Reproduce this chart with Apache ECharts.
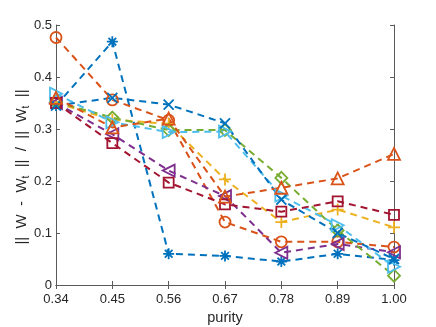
<!DOCTYPE html>
<html>
<head>
<meta charset="utf-8">
<script src="https://cdn.jsdelivr.net/npm/echarts@6/dist/echarts.min.js"></script>
<style>html,body{margin:0;padding:0;background:#fff;}#c{width:436px;height:327px;}</style>
</head>
<body>
<div id="c"></div>
<script>
const categories = ['0.34', '0.45', '0.56', '0.67', '0.78', '0.89', '1.00'];
const yTicks = [0, 0.1, 0.2, 0.3, 0.4, 0.5];

const asteriskBlue = [0.345, 0.468, 0.060, 0.056, 0.045, 0.060, 0.048];
const circleOrange = [0.476, 0.356, 0.317, 0.121, 0.083, 0.083, 0.073];
const plusYellow   = [0.350, 0.318, 0.310, 0.203, 0.121, 0.145, 0.111];
const leftTriPurple= [0.350, 0.290, 0.220, 0.171, 0.062, 0.079, 0.063];
const diamondGreen = [0.352, 0.322, 0.298, 0.298, 0.206, 0.105, 0.018];
const rightTriCyan = [0.368, 0.313, 0.294, 0.295, 0.172, 0.115, 0.035];
const squareRed    = [0.350, 0.273, 0.197, 0.155, 0.141, 0.161, 0.135];
const xBlue        = [0.345, 0.360, 0.347, 0.311, 0.164, 0.100, 0.050];
const triOrange    = [0.360, 0.303, 0.320, 0.170, 0.187, 0.205, 0.252];

const SYM = {
  asterisk: 'path://M5,0L5,10M0,5L10,5M1.5,1.5L8.5,8.5M8.5,1.5L1.5,8.5',
  circle: 'circle',
  plus: 'path://M5,0L5,10M0,5L10,5',
  leftTri: 'path://M10,0L0,5L10,10Z',
  diamond: 'path://M5,0L10,5L5,10L0,5Z',
  rightTri: 'path://M0,0L10,5L0,10Z',
  square: 'path://M0,0L10,0L10,10L0,10Z',
  x: 'path://M0,0L10,10M10,0L0,10',
  tri: 'path://M5,0L10,10L0,10Z'
};

const seriesDefs = [
  {data: asteriskBlue, color: '#0072BD', sym: SYM.asterisk, size: 11},
  {data: circleOrange, color: '#D95319', sym: SYM.circle, size: 11},
  {data: plusYellow, color: '#EDB120', sym: SYM.plus, size: 12},
  {data: leftTriPurple, color: '#7E2F8E', sym: SYM.leftTri, size: 12},
  {data: diamondGreen, color: '#77AC30', sym: SYM.diamond, size: 12},
  {data: rightTriCyan, color: '#4DBEEE', sym: SYM.rightTri, size: 12},
  {data: squareRed, color: '#A2142F', sym: SYM.square, size: 10},
  {data: xBlue, color: '#0072BD', sym: SYM.x, size: 10},
  {data: triOrange, color: '#D95319', sym: SYM.tri, size: 12}
];

const axisCol = '#5a5a5a';
const textCol = '#262626';
const font = 'Liberation Sans, Arial, sans-serif';

const chart = echarts.init(document.getElementById('c'), null, {renderer: 'canvas'});
chart.setOption({
  animation: false,
  backgroundColor: '#fff',
  grid: {left: 56, right: 42, top: 25, bottom: 42, containLabel: false, outerBoundsMode: 'none'},
  graphic: [{
    type: 'text', x: 22, y: 167, rotation: Math.PI / 2,
    style: {
      text: '||  W  -  W{sub|t}  ||  /  ||  W{sub|t}  ||',
      fill: textCol, fontSize: 15, fontFamily: font,
      align: 'center', verticalAlign: 'middle',
      rich: {sub: {fontSize: 10, fill: textCol, fontFamily: font, verticalAlign: 'bottom', padding: [8, 0, 0, 0]}}
    }
  }],
  xAxis: [{
    type: 'category', data: categories, boundaryGap: false,
    name: 'purity', nameLocation: 'middle', nameGap: 25,
    nameTextStyle: {color: textCol, fontSize: 14.5, fontFamily: font},
    axisLine: {lineStyle: {color: axisCol, width: 1}},
    axisTick: {inside: true, length: 4, lineStyle: {color: axisCol}},
    axisLabel: {color: textCol, fontSize: 13, fontFamily: font, margin: 8},
    splitLine: {show: false}
  }, {
    type: 'category', data: categories, boundaryGap: false, position: 'top',
    axisLine: {lineStyle: {color: axisCol, width: 1}},
    axisTick: {inside: true, length: 4, lineStyle: {color: axisCol}},
    axisLabel: {show: false}, splitLine: {show: false}
  }],
  yAxis: [{
    type: 'value', min: 0, max: 0.5, interval: 0.1,
    axisLine: {show: true, lineStyle: {color: axisCol, width: 1}},
    axisTick: {show: true, inside: true, length: 4, lineStyle: {color: axisCol}},
    axisLabel: {color: textCol, fontSize: 13, fontFamily: font, margin: 4,
      formatter: v => { const t = yTicks.find(k => Math.abs(k - v) < 1e-9); return t === 0 ? '0' : (t !== undefined ? t.toFixed(1) : ''); }},
    splitLine: {show: false}
  }, {
    type: 'value', min: 0, max: 0.5, interval: 0.1, position: 'right',
    axisLine: {show: true, lineStyle: {color: axisCol, width: 1}},
    axisTick: {show: true, inside: true, length: 4, lineStyle: {color: axisCol}},
    axisLabel: {show: false}, splitLine: {show: false}
  }],
  series: seriesDefs.map(s => ({
    type: 'line', data: s.data, xAxisIndex: 0, yAxisIndex: 0,
    symbol: s.sym, symbolSize: s.size, showAllSymbol: true,
    lineStyle: {color: s.color, width: 2, type: [7, 5]},
    itemStyle: {color: 'none', borderColor: s.color, borderWidth: 1.8},
    emphasis: {disabled: true},
    z: 2
  }))
});
</script>
</body>
</html>
